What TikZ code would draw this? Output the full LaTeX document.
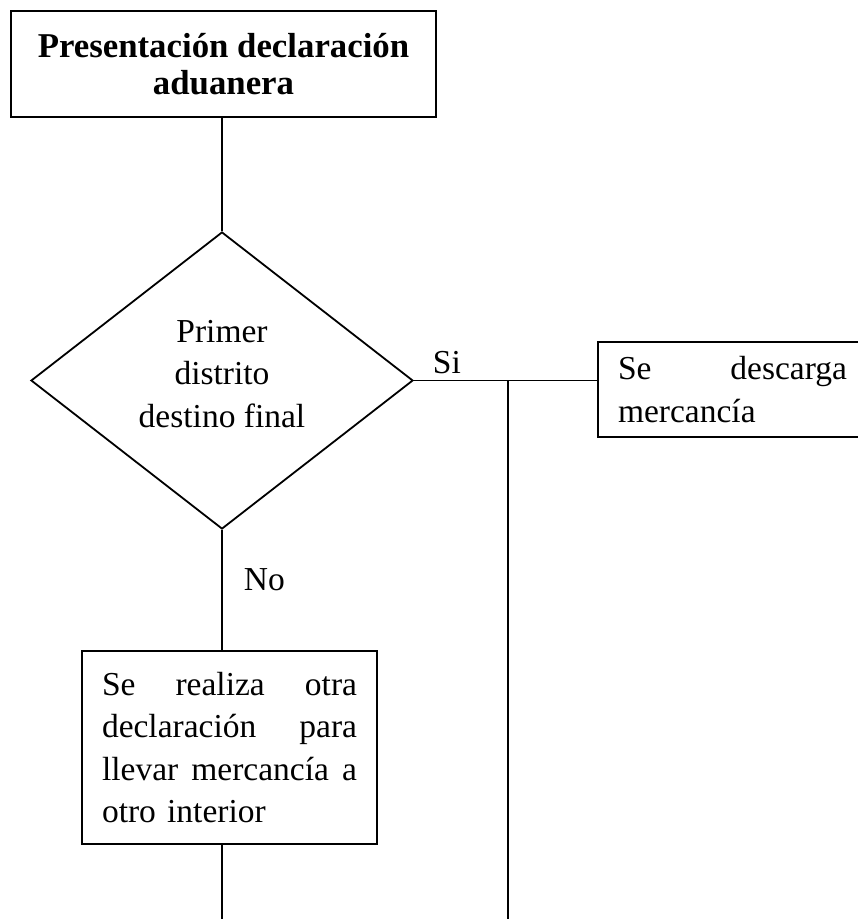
\documentclass[tikz,border=0pt]{standalone}
\usepackage{fontspec}
\setmainfont{Liberation Serif}
\usetikzlibrary{shapes.geometric,calc}
\begin{document}
\begin{tikzpicture}[x=1pt,y=-1pt, line width=1.8pt,
  box/.style={draw, rectangle, inner sep=0pt, anchor=center},
  body/.style={font=\fontsize{33.5}{42.5}\selectfont}]
\useasboundingbox (0,0) rectangle (858,919);
\node[box, minimum width=425pt, minimum height=106pt,
      font=\bfseries\fontsize{34.8}{37}\selectfont, align=center] (title) at (223.5,64)
  {Presentación declaración\\aduanera};
\node[draw, diamond, minimum width=382pt, minimum height=297pt, inner sep=0pt] (dia) at (222,380.5) {};
\node[body, align=center, inner sep=0pt] (dtext) at (222,374) {Primer\\distrito\\destino final};
\node[box, body, text width=229pt, inner xsep=20pt, minimum height=95pt, align=left] (desc) at (732.5,389.5)
  {\makebox[229pt]{Se\hfill descarga}\\mercancía};
\node[box, body, text width=255pt, inner xsep=20pt, minimum height=193pt, align=left] (other) at (229.5,747.5)
  {\makebox[255pt]{Se\hfill realiza\hfill otra}\\\makebox[255pt]{declaración\hfill para}\\\makebox[255pt]{llevar\hfill mercancía\hfill a}\\otro interior};
\coordinate (j) at (508,380.5);
\coordinate (jb) at (508,919);
\coordinate (ob) at (222,919);
\draw (title.south -| dia.north) -- (dia.north);
\draw (dia.east) -- (dia.east -| desc.west);
\draw (j) -- (jb);
\draw (dia.south) -- (dia.south |- other.north);
\draw (dia.south |- other.south) -- (ob);
\node[body, anchor=base west, inner sep=0pt] (si) at (432,373) {Si};
\node[body, anchor=base west, inner sep=0pt] (no) at (243,590) {No};
\end{tikzpicture}
\end{document}
